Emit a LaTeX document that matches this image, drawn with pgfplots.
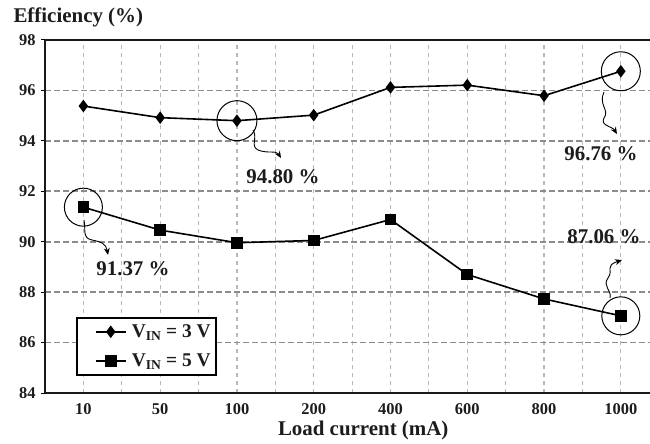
\documentclass[border=0pt]{standalone}
\usepackage{fontspec}
\setmainfont{Liberation Serif}
\usepackage{pgfplots}
\pgfplotsset{compat=1.18}
\usetikzlibrary{arrows.meta}
\definecolor{txt}{HTML}{1C1C1C}
\definecolor{ygrid}{HTML}{8C8C8C}
\definecolor{xgrid}{HTML}{B8B8B8}
\begin{document}
\begin{tikzpicture}
\path[use as bounding box] (-45bp,-51bp) rectangle (605bp,393bp);
\begin{axis}[
  scale only axis,
  width=605bp, height=353bp,
  xmin=-0.5, xmax=7.38,
  ymin=84, ymax=98,
  axis x line=box,
  axis y line=left,
  axis line style={-, line width=2.2bp, color=black!90},
  every outer y axis line/.append style={-},
  xtick={0,...,7},
  xticklabels={10,50,100,200,400,600,800,1000},
  minor xtick={-0.5,0.5,1.5,2.5,3.5,4.5,5.5,6.5},
  ytick={84,86,...,98},
  x tick style={draw=none},
  minor x tick style={draw=none},
  y tick style={line width=1bp, black},
  tick align=outside,
  major tick length=4bp,
  xmajorgrids, xminorgrids, ymajorgrids,
  x grid style={xgrid, line width=1.2bp, dash pattern=on 4bp off 4bp},
  minor x grid style={xgrid, line width=1.2bp, dash pattern=on 4bp off 4bp},
  y grid style={ygrid, line width=1.6bp, dash pattern=on 6bp off 3bp},
  /pgf/number format/assume math mode=true,
  ticklabel style={font=\fontsize{16.5}{19}\selectfont\bfseries, text=txt},
  yticklabel style={xshift=-2bp},
  xticklabel style={yshift=-3bp},
  xlabel={Load current (mA)},
  xlabel style={font=\fontsize{21}{24}\selectfont\bfseries, text=txt, at={(axis description cs:0.526,0)}, anchor=center, yshift=-37bp},
  legend style={at={(axis description cs:0.051,0.048)}, anchor=south west, draw=black, line width=1.8bp, fill=white,
     font=\fontsize{19.5}{22}\selectfont\bfseries, text=txt, inner xsep=3bp, inner ysep=5bp, row sep=11bp,
     nodes={inner xsep=2bp}},
  legend cell align=left,
  legend image code/.code={\path[draw=none] (-16bp,0bp) -- (34bp,0bp);\draw[mark repeat=2,mark phase=2,#1] plot coordinates {(0bp,0bp)(15bp,0bp)(30bp,0bp)};},
  clip=false,
]
\addplot[black, line width=1.6bp, mark=diamond*, mark size=5bp, mark options={solid}] coordinates {
  (0,95.38) (1,94.92) (2,94.80) (3,95.02) (4,96.12) (5,96.21) (6,95.79) (7,96.76)};
\addlegendentry{V\textsubscript{IN} = 3 V}
\addplot[black, line width=1.6bp, mark=square*, mark size=5bp, mark options={solid}] coordinates {
  (0,91.37) (1,90.46) (2,89.96) (3,90.05) (4,90.88) (5,88.70) (6,87.73) (7,87.06)};
\addlegendentry{V\textsubscript{IN} = 5 V}
\draw[line width=1bp] (axis cs:2,94.80) circle[radius=20bp];
\draw[line width=1bp] (axis cs:7,96.76) circle[radius=19.5bp];
\draw[line width=1bp] (axis cs:0,91.37) circle[radius=19bp];
\draw[line width=1bp] (axis cs:7,87.06) circle[radius=19bp];
\node[anchor=west, font=\fontsize{21}{24}\selectfont\bfseries, text=txt] at ([xshift=-35bp,yshift=23bp]rel axis cs:0,1) {Efficiency (\%)};
\end{axis}
\begin{scope}[x=1bp, y=-1bp, shift={(-45bp,393bp)}]
  \tikzset{wav/.style={line width=0.9bp, -{Stealth[length=7bp,width=6bp]}}}
  \draw[wav] (253,130) .. controls (258,138) and (250,146) .. (258,150) .. controls (268,154) and (276,150) .. (281,158);
  \draw[wav] (604,92) .. controls (598,105) and (610,110) .. (604,118) .. controls (600,126) and (612,126) .. (617,134);
  \draw[wav] (84,220) .. controls (86,230) and (82,238) .. (92,240) .. controls (102,242) and (106,244) .. (108,255);
  \draw[wav] (610,298) .. controls (612,290) and (602,286) .. (608,278) .. controls (614,270) and (604,266) .. (622,260);
  \tikzset{lab/.style={font=\fontsize{21}{24}\selectfont\bfseries, text=txt}}
  \node[lab] at (283,177) {94.80 \%};
  \node[lab] at (601,154) {96.76 \%};
  \node[lab] at (133,269) {91.37 \%};
  \node[lab] at (604,237) {87.06 \%};
\end{scope}
\end{tikzpicture}
\end{document}
